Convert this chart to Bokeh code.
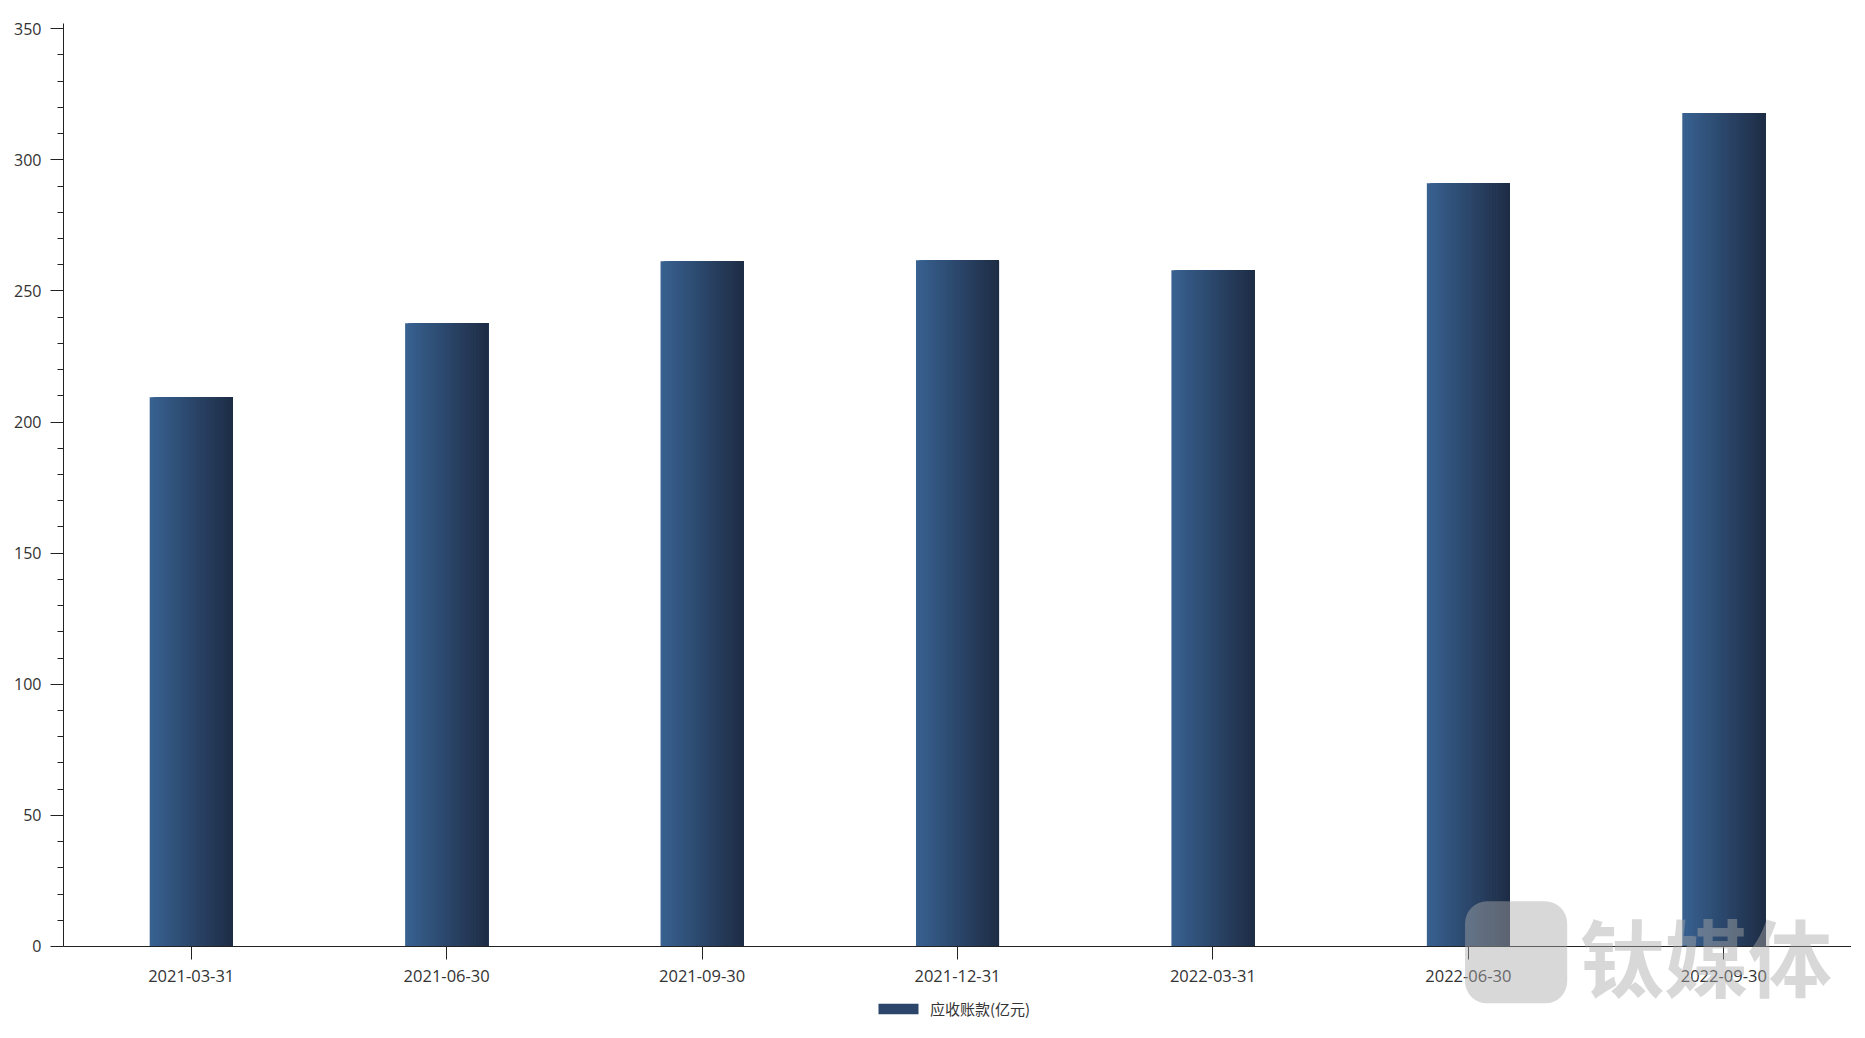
from bokeh.plotting import figure
from bokeh.models import (FactorRange, Range1d, SingleIntervalTicker, Legend, LegendItem,
                          ColumnDataSource, Label, BoxAnnotation)
from bokeh.transform import dodge
from bokeh.embed import file_html
from bokeh.resources import INLINE

# ---- data ----
dates = ["2021-03-31", "2021-06-30", "2021-09-30", "2021-12-31",
         "2022-03-31", "2022-06-30", "2022-09-30"]
receivables = [209.5, 237.7, 261.3, 261.7, 257.9, 291.1, 317.9]
series_name = "应收账款(亿元)"
watermark = "钛媒体"

# ---- style ----
left_rgb = (56, 97, 144)
right_rgb = (30, 45, 70)
n_strips = 28
bar_width = 0.325
font = "Open Sans"
tick_color = "#333333"

p = figure(width=1851, height=1022, output_backend="svg", toolbar_location=None,
           x_range=FactorRange(factors=dates, range_padding=0),
           y_range=Range1d(-29.0, 352),
           min_border_left=63, min_border_right=0, min_border_top=23, min_border_bottom=0)
p.outline_line_color = None
p.xgrid.visible = False
p.ygrid.visible = False

src = ColumnDataSource(dict(x=dates, top=receivables))
strip_w = bar_width / n_strips
renderers = []
for i in range(n_strips):
    t = i / (n_strips - 1)
    c = tuple(int(round(left_rgb[k] + (right_rgb[k] - left_rgb[k]) * t)) for k in range(3))
    col = "#%02x%02x%02x" % c
    left = -bar_width / 2 + i * strip_w
    right = bar_width / 2
    r = p.vbar(x=dodge("x", (left + right) / 2, range=p.x_range), top="top", bottom=0,
               width=right - left, source=src, fill_color=col, line_color=None)
    renderers.append(r)

# axes
xax = p.xaxis[0]
xax.fixed_location = 0
yax = p.yaxis[0]
yax.bounds = (0, 352)
yax.ticker = SingleIntervalTicker(interval=50, num_minor_ticks=5)
yax.major_tick_out = 13
yax.major_tick_in = 0
yax.minor_tick_out = 6
yax.minor_tick_in = 0
yax.major_label_standoff = 9
for ax in (xax, yax):
    ax.axis_line_color = "#222222"
    ax.major_tick_line_color = "#222222"
    ax.minor_tick_line_color = "#222222"
    ax.major_label_text_font = font
    ax.major_label_text_font_size = "16px"
    ax.major_label_text_color = tick_color
xax.major_label_text_font_size = "16.5px"
xax.major_tick_out = 13
xax.major_tick_in = 0
xax.major_label_standoff = 11

# legend
legend = Legend(items=[LegendItem(label=series_name, renderers=[renderers[n_strips // 2]])],
                location=(810, 3), orientation="horizontal",
                glyph_width=50, glyph_height=13, label_standoff=7,
                padding=0, margin=0, border_line_color=None, background_fill_alpha=0,
                label_text_font="Noto Sans CJK SC", label_text_font_size="15px",
                label_text_color=tick_color)
p.add_layout(legend, "center")

# watermark
p.add_layout(BoxAnnotation(left=5.487, right=5.887, bottom=-21.7, top=17.2,
                           fill_color="#a8a8a8", fill_alpha=0.45, line_color=None,
                           border_radius=22))
p.add_layout(Label(x=5.937, y=-3.2, text=watermark, text_font="Noto Sans CJK SC",
                   text_font_size="84px", text_font_style="bold",
                   text_color="#a8a8a8", text_alpha=0.45, text_baseline="middle"))

open("out.html", "w").write(file_html(p, INLINE))
